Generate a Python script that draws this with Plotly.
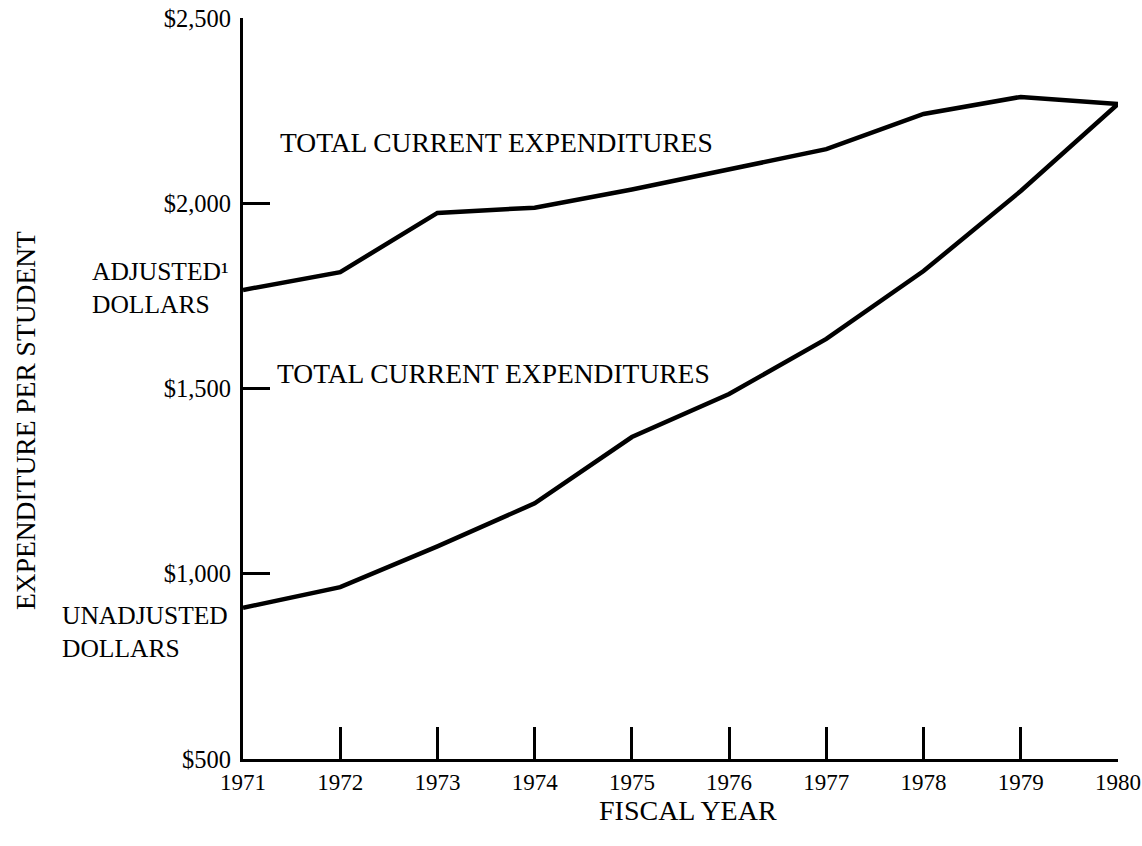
import plotly.graph_objects as go

years = [1971, 1972, 1973, 1974, 1975, 1976, 1977, 1978, 1979, 1980]
adjusted = [1766, 1814, 1974, 1988, 2037, 2092, 2146, 2241, 2287, 2268]
unadjusted = [908, 964, 1074, 1190, 1369, 1485, 1634, 1817, 2033, 2268]

y_tickvals = [500, 1000, 1500, 2000, 2500]
y_ticktext = ["$500", "$1,000", "$1,500", "$2,000", "$2,500"]
x_ticktext = [str(y) for y in years]

FONT = "Liberation Serif, Times New Roman, serif"

# figure geometry (body margin removed by post_script)
W, H = 1142, 846
L, R, T, B = 243, 24, 18, 87
OFF = 0


def px(xpage):
    return (xpage - OFF - L) / (W - L - R)


def py(ypage):
    return (H - B - (ypage - OFF)) / (H - T - B)


fig = go.Figure()
fig.add_trace(go.Scatter(x=years, y=adjusted, mode="lines",
                         line=dict(color="black", width=4.5), showlegend=False,
                         cliponaxis=False))
fig.add_trace(go.Scatter(x=years, y=unadjusted, mode="lines",
                         line=dict(color="black", width=4.5), showlegend=False,
                         cliponaxis=False))

fig.update_layout(
    width=W, height=H,
    margin=dict(l=L, r=R, t=T, b=B, autoexpand=False),
    paper_bgcolor="white", plot_bgcolor="white",
    font=dict(family=FONT, color="black", size=23),
    showlegend=False,
)
fig.update_xaxes(range=[1971, 1980], tickvals=years, ticktext=x_ticktext,
                 showgrid=False, zeroline=False, showline=True, linecolor="black",
                 linewidth=3, ticks="inside", ticklen=32, tickwidth=2.5,
                 tickcolor="black", ticklabelstandoff=0, automargin=False,
                 ticklabeloverflow="allow",
                 tickfont=dict(family=FONT, size=23, color="black"))
fig.update_yaxes(range=[500, 2500], tickvals=y_tickvals, ticktext=y_ticktext,
                 showgrid=False, zeroline=False, showline=True, linecolor="black",
                 linewidth=3, ticks="inside", ticklen=27, tickwidth=3,
                 tickcolor="black", ticklabelstandoff=4, automargin=False,
                 ticklabeloverflow="allow",
                 tickfont=dict(family=FONT, size=24.5, color="black"))

ann = [
    dict(x=278, y=142, text="TOTAL CURRENT EXPENDITURES", xanchor="left", size=27.5, angle=0),
    dict(x=275, y=373, text="TOTAL CURRENT EXPENDITURES", xanchor="left", size=27.5, angle=0),
    dict(x=90, y=288, text="ADJUSTED¹<br>DOLLARS", xanchor="left", size=25.5, angle=0),
    dict(x=60, y=632, text="UNADJUSTED<br>DOLLARS", xanchor="left", size=25.5, angle=0),
    dict(x=688, y=810, text="FISCAL YEAR", xanchor="center", size=28, angle=0),
    dict(x=25, y=421, text="EXPENDITURE PER STUDENT", xanchor="center", size=27.5, angle=-90),
]
for a in ann:
    fig.add_annotation(x=px(a["x"]), y=py(a["y"]), xref="paper", yref="paper",
                       text=a["text"], showarrow=False, xanchor=a["xanchor"],
                       yanchor="middle", align="left", textangle=a["angle"],
                       font=dict(family=FONT, size=a["size"], color="black"))

fig.write_html("out.html",
               config={"displayModeBar": False},
               post_script="document.body.style.margin='0px';document.body.style.overflow='hidden';")
